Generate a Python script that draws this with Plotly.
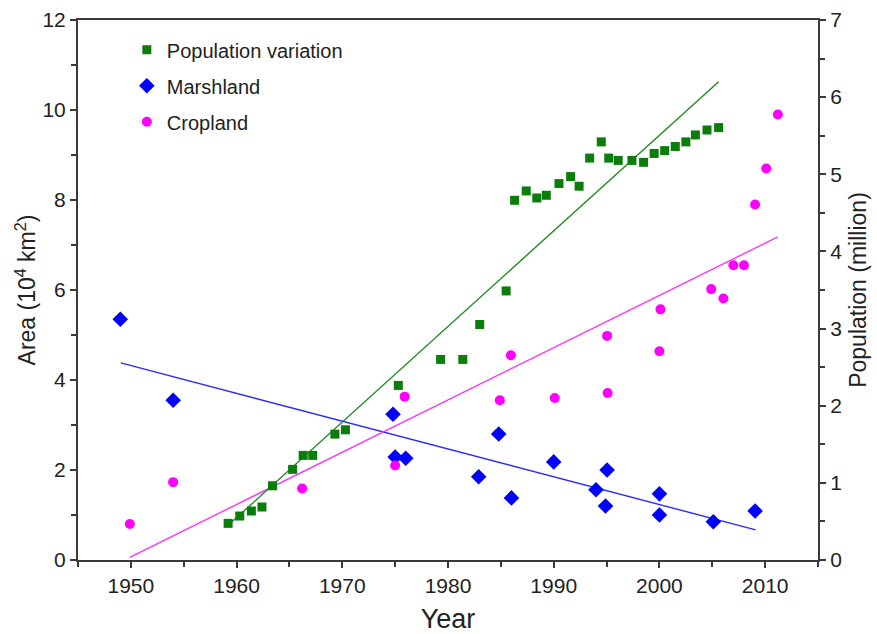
import plotly.graph_objects as go

# ---- data ----
pop_years = [1959.2, 1960.3, 1961.4, 1962.4, 1963.4, 1965.3, 1966.3, 1967.2, 1969.3, 1970.3,
             1975.3, 1979.3, 1981.4, 1983.0, 1985.5, 1986.3, 1987.4, 1988.4, 1989.3, 1990.5,
             1991.6, 1992.4, 1993.4, 1994.5, 1995.2, 1996.1, 1997.4, 1998.5, 1999.5, 2000.5,
             2001.5, 2002.5, 2003.4, 2004.5, 2005.6]
pop_values = [0.475, 0.57, 0.635, 0.687, 0.962, 1.175, 1.356, 1.356, 1.632, 1.688,
              2.263, 2.60, 2.60, 3.053, 3.488, 4.663, 4.784, 4.693, 4.728, 4.88,
              4.97, 4.845, 5.21, 5.42, 5.21, 5.18, 5.18, 5.155, 5.27, 5.307,
              5.36, 5.42, 5.51, 5.574, 5.605]

marsh_years = [1949.0, 1954.0, 1974.8, 1975.0, 1976.0, 1982.9, 1984.8, 1986.0, 1990.0,
               1994.0, 1994.9, 1995.05, 2000.0, 2000.0, 2005.1, 2009.05]
marsh_values = [5.35, 3.55, 3.24, 2.29, 2.26, 1.85, 2.80, 1.38, 2.18,
                1.56, 1.20, 2.00, 1.47, 1.00, 0.85, 1.09]

crop_years = [1949.9, 1954.0, 1966.2, 1975.0, 1975.9, 1984.9, 1985.95, 1990.1, 1995.05,
              1995.1, 2000.0, 2000.1, 2004.9, 2006.05, 2007.0, 2008.0, 2009.05, 2010.1, 2011.2]
crop_values = [0.80, 1.73, 1.59, 2.10, 3.63, 3.55, 4.55, 3.60, 4.98,
               3.71, 4.64, 5.57, 6.02, 5.81, 6.55, 6.55, 7.90, 8.70, 9.90]

# linear trend lines (end points)
pop_trend_years = [1959.2, 2005.6]
pop_trend_values = [0.45, 6.2]
marsh_trend_years = [1949.05, 2009.1]
marsh_trend_values = [4.38, 0.67]
crop_trend_years = [1949.9, 2011.2]
crop_trend_values = [0.06, 7.18]

x_ticks = [1950, 1960, 1970, 1980, 1990, 2000, 2010]

GREEN = "#0a7d0a"
BLUE = "#0000ff"
MAGENTA = "#ff00ff"
AXIS = "#3a3a3a"
FONT = "Liberation Sans, Arial, sans-serif"

fig = go.Figure()

# trend lines
fig.add_trace(go.Scatter(x=pop_trend_years, y=pop_trend_values, mode="lines",
                         line=dict(color="#1f8a1f", width=1.4), yaxis="y2",
                         showlegend=False, hoverinfo="skip"))
fig.add_trace(go.Scatter(x=marsh_trend_years, y=marsh_trend_values, mode="lines",
                         line=dict(color="#2a2aff", width=1.4),
                         showlegend=False, hoverinfo="skip"))
fig.add_trace(go.Scatter(x=crop_trend_years, y=crop_trend_values, mode="lines",
                         line=dict(color="#ff33ff", width=1.4),
                         showlegend=False, hoverinfo="skip"))

# markers
fig.add_trace(go.Scatter(x=pop_years, y=pop_values, mode="markers", name="Population variation",
                         yaxis="y2", legendgroup="a",
                         marker=dict(symbol="square", size=9, color=GREEN)))
fig.add_trace(go.Scatter(x=marsh_years, y=marsh_values, mode="markers", name="Marshland",
                         legendgroup="b",
                         marker=dict(symbol="diamond", size=12, color=BLUE)))
fig.add_trace(go.Scatter(x=crop_years, y=crop_values, mode="markers", name="Cropland",
                         legendgroup="c",
                         marker=dict(symbol="circle", size=10, color=MAGENTA)))

fig.update_layout(
    width=877, height=634,
    margin=dict(l=78, r=59, t=20, b=74),
    paper_bgcolor="white", plot_bgcolor="white",
    font=dict(family=FONT, size=19, color="#222222"),
    showlegend=True,
    legend=dict(x=0.066, y=0.981, xanchor="left", yanchor="top",
                bgcolor="rgba(0,0,0,0)", borderwidth=0,
                font=dict(size=20, color="#222222"),
                traceorder="grouped", tracegroupgap=7, itemwidth=30),
    xaxis=dict(range=[1945, 2015], tickvals=x_ticks, ticks="outside", ticklen=6,
               tickwidth=1.5, tickcolor=AXIS, showline=True, linecolor=AXIS, linewidth=2,
               mirror=True, showgrid=False, zeroline=False, automargin=False,
               tickfont=dict(size=21),
               minor=dict(dtick=5, tick0=1945, ticks="outside", ticklen=5, tickcolor=AXIS,
                          tickwidth=1.5, showgrid=False),
               title=dict(text="Year", font=dict(size=27), standoff=16)),
    yaxis=dict(range=[0, 12], dtick=2, ticks="outside", ticklen=6, tickwidth=1.5,
               tickcolor=AXIS, showline=True, linecolor=AXIS, linewidth=2, automargin=False,
               showgrid=False, zeroline=False, tickfont=dict(size=21),
               minor=dict(dtick=1, ticks="outside", ticklen=5, tickcolor=AXIS,
                          tickwidth=1.5, showgrid=False),
               title=dict(text="Area (10<sup>4</sup> km<sup>2</sup>)", font=dict(size=23),
                          standoff=0)),
    yaxis2=dict(range=[0, 7], dtick=1, overlaying="y", side="right", anchor="x",
                ticks="outside", ticklen=6, tickwidth=1.5, tickcolor=AXIS, automargin=False,
                showline=True, linecolor=AXIS, linewidth=2,
                showgrid=False, zeroline=False, tickfont=dict(size=21),
                minor=dict(dtick=0.5, ticks="outside", ticklen=5, tickcolor=AXIS,
                           tickwidth=1.5, showgrid=False),
                title=dict(text="Population (million)", font=dict(size=23), standoff=9)),
)

fig.write_html("out.html")
